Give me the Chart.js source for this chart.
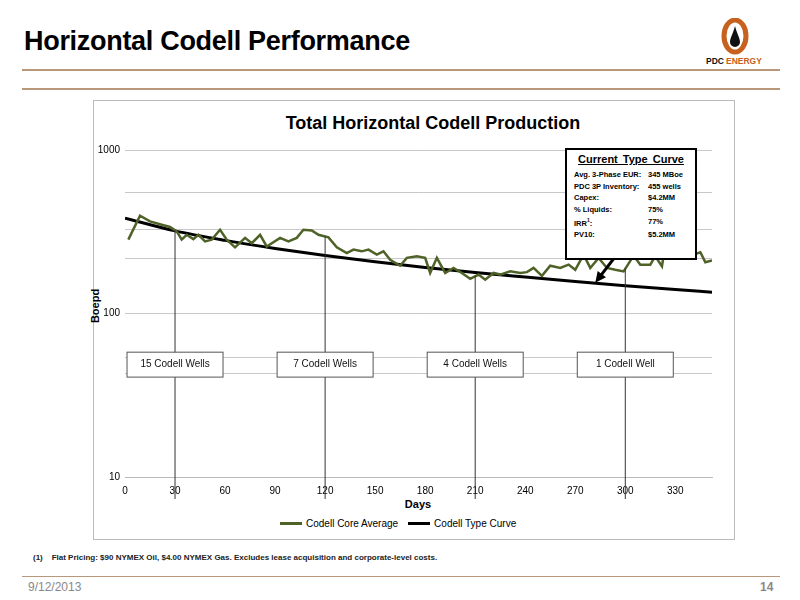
<!DOCTYPE html>
<html><head><meta charset="utf-8">
<script src="https://cdn.jsdelivr.net/npm/chart.js@4"></script>
<style>
body{margin:0;width:800px;height:600px;position:relative;background:#fff;font-family:"Liberation Sans",Arial,sans-serif;overflow:hidden}
.abs{position:absolute}
</style></head><body>
<div class="abs" style="left:24px;top:26px;font-size:27px;font-weight:bold;color:#000;letter-spacing:-0.3px">Horizontal Codell Performance</div>
<div class="abs" style="left:22px;top:69px;width:758px;height:2px;background:#b8977a"></div>
<div class="abs" style="left:22px;top:88px;width:758px;height:2px;background:#b8977a"></div>
<svg class="abs" style="left:700px;top:18px" width="70" height="50">
<ellipse cx="35" cy="18" rx="11" ry="16" fill="none" stroke="#c8601e" stroke-width="5"/>
<path d="M35 8 C33 16 30 20 30 24 a5 5 0 0 0 10 0 C40 20 37 16 35 8Z" fill="#111"/>
<text x="6" y="46" font-size="8.5" font-weight="bold" fill="#111" font-family="Liberation Sans">PDC</text>
<text x="26" y="46" font-size="8.5" font-weight="bold" fill="#c8601e" font-family="Liberation Sans">ENERGY</text>
</svg>
<div class="abs" style="left:93px;top:100px;width:640px;height:438px;border:1px solid #bbb"></div>
<div class="abs" style="left:93px;top:113px;width:600px;text-align:center;font-size:18px;font-weight:bold;padding-left:40px">Total Horizontal Codell Production</div>
<div class="abs" style="left:78px;top:300px;transform:rotate(-90deg);font-size:11px;font-weight:bold">Boepd</div>
<div class="abs" style="left:368px;top:498px;width:100px;text-align:center;font-size:11px;font-weight:bold">Days</div>
<div class="abs" style="left:280px;top:518px;font-size:10px;display:flex;align-items:center;gap:4px">
<span style="display:inline-block;width:22px;height:3px;background:#4f6228"></span>Codell Core Average
<span style="display:inline-block;width:22px;height:3px;background:#000;margin-left:6px"></span>Codell Type Curve</div>
<div class="abs" style="left:33px;top:553px;font-size:8px;color:#222;font-weight:bold">(1)&nbsp;&nbsp;&nbsp;&nbsp;Flat Pricing: $90 NYMEX Oil, $4.00 NYMEX Gas. Excludes lease acquisition and corporate-level costs.</div>
<div class="abs" style="left:22px;top:576px;width:758px;height:1px;background:#b8977a"></div>
<div class="abs" style="left:28px;top:580px;font-size:12px;color:#888">9/12/2013</div>
<div class="abs" style="left:760px;top:580px;font-size:12px;color:#888;font-weight:bold">14</div>
<div class="abs" style="left:565px;top:148px;width:132px;height:112px;border:2px solid #000;background:#fff;font-size:7.5px;font-weight:bold;z-index:3;box-sizing:border-box;padding:3px 6px">
<div style="text-align:center;font-size:11px;text-decoration:underline;margin-bottom:4px;word-spacing:2px">Current Type Curve</div>
<table style="border-collapse:collapse;font-size:7.5px;font-weight:bold;line-height:9.5px">
<tr><td style="width:72px">Avg. 3-Phase EUR:</td><td>345 MBoe</td></tr>
<tr><td>PDC 3P Inventory:</td><td>455 wells</td></tr>
<tr><td>Capex:</td><td>$4.2MM</td></tr>
<tr><td>% Liquids:</td><td>75%</td></tr>
<tr><td>IRR<sup style="font-size:5px">1</sup>:</td><td>77%</td></tr>
<tr><td>PV10:</td><td>$5.2MM</td></tr></table></div>
<div class="abs" style="left:93px;top:100px;width:642px;height:440px"><canvas id="c"></canvas></div>
<script>
const avgDays=[2,9,15,22,27,31,34,37,41,44,48,52,57,61,66,72,76,81,85,93,98,103,107,112,116,122,127,133,137,142,146,151,155,159,165,169,175,180,183,187,192,197,202,207,212,216,221,225,231,237,241,245,250,255,261,266,270,275,279,284,289,294,299,305,309,315,318,322,324,329,333,337,341,345,348,352];
const avgVals=[283,396,366,349,338,318,283,303,285,303,276,283,325,283,254,290,269,303,257,290,276,290,325,322,303,292,254,234,246,240,246,229,240,213,196,219,224,219,177,219,177,190,177,163,173,161,177,173,181,177,179,190,170,196,190,199,185,229,190,219,190,185,181,226,199,199,224,194,264,257,229,246,229,237,206,211];
const typeDays=[0,30,60,90,120,150,180,210,240,270,300,330,352];
const typeVals=[383,320,280,250,226,207,191,178,167,157,148,140,135];
const xTicks=[0,30,60,90,120,150,180,210,240,270,300,330];
const yLabels=[10,100,1000];
const yGrid=[10,43,54,100,217,325,547,1000];
const wellLabels=["15 Codell Wells","7 Codell Wells","4 Codell Wells","1 Codell Well"];
const wellDays=[30,120,210,300];
const xy=(d,v)=>d.map((x,i)=>({x,y:v[i]}));
function avgAt(d){for(let i=1;i<avgDays.length;i++){if(avgDays[i]>=d){const t=(d-avgDays[i-1])/(avgDays[i]-avgDays[i-1]);return avgVals[i-1]+t*(avgVals[i]-avgVals[i-1]);}}return avgVals[avgVals.length-1];}
const overlay={id:'ov',afterDatasetsDraw(ch){
 const c=ch.ctx,xs=ch.scales.x,ys=ch.scales.y;
 c.save();
 wellDays.forEach((d,i)=>{
  const px=xs.getPixelForValue(d);
  c.strokeStyle='#333';c.lineWidth=1;
  c.beginPath();c.moveTo(px,ys.getPixelForValue(avgAt(d)));c.lineTo(px,ys.bottom+22);c.stroke();
  const bx0=px-48,bw=96,by=ys.getPixelForValue(58),bh=ys.getPixelForValue(42)-by+2;
  c.fillStyle='#fff';c.fillRect(bx0,by,bw,bh);
  c.strokeStyle='#555';c.strokeRect(bx0,by,bw,bh);
  c.fillStyle='#111';c.font='10px "Liberation Sans"';c.textAlign='center';c.textBaseline='middle';
  c.fillText(wellLabels[i],px,by+bh/2);
 });
 const x1=628-93,y1=240-100,x2=xs.getPixelForValue(282),y2=ys.getPixelForValue(152)-1;
 const a=Math.atan2(y2-y1,x2-x1);
 c.strokeStyle='#000';c.lineWidth=3;c.beginPath();c.moveTo(x1,y1);c.lineTo(x2-8*Math.cos(a),y2-8*Math.sin(a));c.stroke();
 c.fillStyle='#000';c.beginPath();c.moveTo(x2,y2);
 c.lineTo(x2-12*Math.cos(a-0.45),y2-12*Math.sin(a-0.45));c.lineTo(x2-12*Math.cos(a+0.45),y2-12*Math.sin(a+0.45));c.fill();
 c.restore();
}};
new Chart(document.getElementById('c'),{type:'line',
 data:{datasets:[
  {label:'Codell Core Average',data:xy(avgDays,avgVals),borderColor:'#4f6228',borderWidth:2.5,pointRadius:0,tension:0},
  {label:'Codell Type Curve',data:xy(typeDays,typeVals),borderColor:'#000',borderWidth:3,pointRadius:0,tension:0.4,cubicInterpolationMode:'monotone'}]},
 options:{responsive:true,maintainAspectRatio:false,animation:false,
  layout:{padding:{top:50,right:23,left:0,bottom:0}},
  plugins:{legend:{display:false},tooltip:{enabled:false}},
  scales:{
   x:{type:'linear',min:0,max:352,afterBuildTicks:s=>{s.ticks=xTicks.map(v=>({value:v}))},
      afterFit:s=>{s.height=63},grid:{display:false},border:{color:'#bbb'},
      ticks:{font:{size:10,family:'Liberation Sans'},color:'#000',maxRotation:0,padding:0}},
   y:{type:'logarithmic',min:10,max:1000,afterBuildTicks:s=>{s.ticks=yGrid.map(v=>({value:v}))},
      afterFit:s=>{s.width=32},border:{display:false},
      grid:{color:'#c8c8c8',drawTicks:false},
      ticks:{font:{size:10,family:'Liberation Sans'},color:'#000',padding:5,callback:v=>yLabels.includes(v)?String(v):''}}
  }},
 plugins:[overlay]});
</script></body></html>
